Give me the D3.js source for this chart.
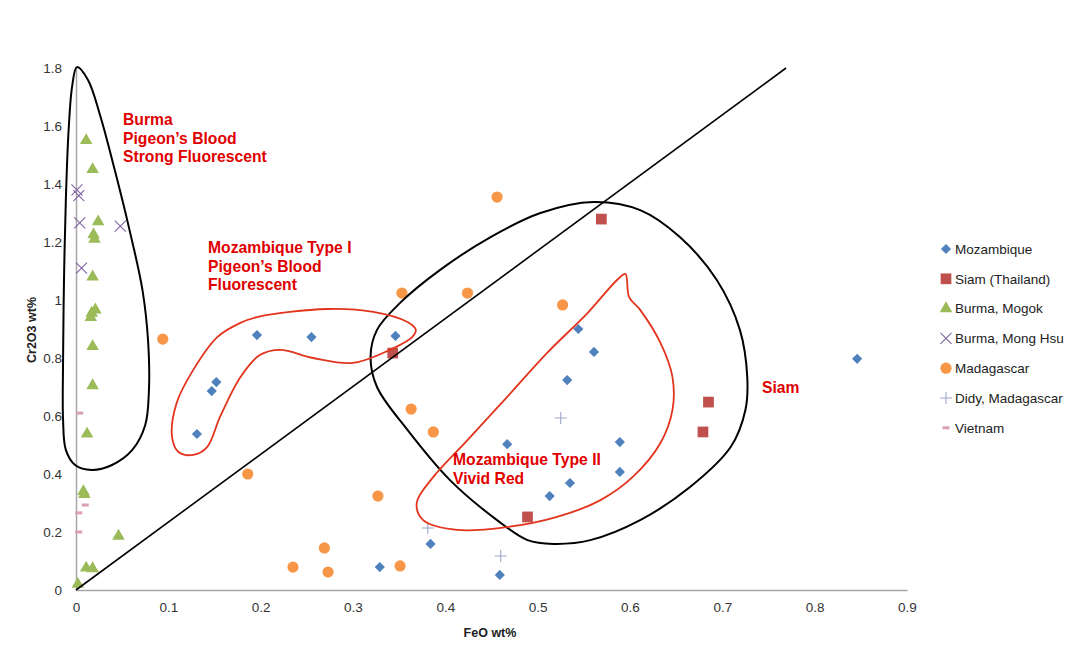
<!DOCTYPE html>
<html><head><meta charset="utf-8">
<script src="https://cdn.jsdelivr.net/npm/d3@7"></script>
<style>body{margin:0;background:#fff}svg{display:block}</style>
</head><body>
<script>
// ---- data (FeO wt%, Cr2O3 wt%) ----
const xTicks = [0,0.1,0.2,0.3,0.4,0.5,0.6,0.7,0.8,0.9];
const yTicks = [0,0.2,0.4,0.6,0.8,1,1.2,1.4,1.6,1.8];
const seriesNames = ["Mozambique","Siam (Thailand)","Burma, Mogok","Burma, Mong Hsu","Madagascar","Didy, Madagascar","Vietnam"];
const mozambique = [[0.196,0.879],[0.255,0.872],[0.152,0.717],[0.147,0.686],[0.131,0.538],[0.346,0.876],[0.544,0.900],[0.561,0.821],[0.532,0.724],[0.467,0.503],[0.589,0.510],[0.589,0.407],[0.535,0.369],[0.513,0.324],[0.384,0.159],[0.329,0.079],[0.459,0.052],[0.846,0.797]];
const siam = [[0.569,1.279],[0.343,0.817],[0.685,0.648],[0.679,0.545],[0.489,0.252]];
const burmaMogok = [[0.011,1.55],[0.018,1.45],[0.024,1.27],[0.019,1.225],[0.020,1.21],[0.018,1.08],[0.021,0.966],[0.017,0.955],[0.016,0.94],[0.018,0.84],[0.018,0.705],[0.012,0.538],[0.008,0.34],[0.009,0.33],[0.046,0.186],[0.011,0.076],[0.018,0.074],[0.002,0.02]];
const burmaMongHsu = [[0.001,1.38],[0.003,1.36],[0.004,1.266],[0.048,1.255],[0.006,1.11]];
const madagascar = [[0.094,0.865],[0.456,1.355],[0.353,1.024],[0.424,1.024],[0.527,0.983],[0.363,0.624],[0.387,0.545],[0.186,0.400],[0.327,0.324],[0.269,0.145],[0.235,0.079],[0.273,0.062],[0.351,0.083]];
const didy = [[0.525,0.593],[0.381,0.214],[0.460,0.117]];
const vietnam = [[0.004,0.61],[0.010,0.293],[0.003,0.266],[0.003,0.2]];
const diagonal = [[0,0],[0.769,1.8]];
// enclosing outlines (data units)
const burmaOutline = [[0.001,1.803],[0.013,1.759],[0.026,1.638],[0.042,1.448],[0.058,1.241],[0.072,1.034],[0.078,0.862],[0.079,0.690],[0.075,0.569],[0.061,0.483],[0.039,0.431],[0.017,0.414],[-0.001,0.431],[-0.011,0.483],[-0.014,0.586],[-0.014,0.793],[-0.013,1.069],[-0.011,1.345],[-0.008,1.586],[-0.004,1.741]];
const mozIOutline = [[0.196,0.941],[0.272,0.969],[0.322,0.959],[0.359,0.924],[0.368,0.897],[0.364,0.872],[0.340,0.828],[0.300,0.783],[0.257,0.800],[0.221,0.828],[0.199,0.810],[0.178,0.734],[0.156,0.597],[0.142,0.493],[0.127,0.466],[0.111,0.476],[0.104,0.528],[0.109,0.645],[0.127,0.759],[0.153,0.872],[0.178,0.921]];
const siamOutline = [[0.560,1.338],[0.611,1.310],[0.654,1.217],[0.694,1.069],[0.719,0.897],[0.727,0.734],[0.725,0.621],[0.709,0.493],[0.665,0.355],[0.611,0.241],[0.557,0.172],[0.517,0.159],[0.489,0.172],[0.456,0.241],[0.405,0.379],[0.359,0.552],[0.326,0.700],[0.319,0.803],[0.326,0.897],[0.351,0.990],[0.394,1.103],[0.449,1.217],[0.503,1.300]];
const mozIIOutline = [[0.595,1.090],[0.599,1.010],[0.611,0.966],[0.633,0.852],[0.646,0.734],[0.646,0.621],[0.633,0.507],[0.603,0.390],[0.568,0.310],[0.521,0.252],[0.467,0.217],[0.413,0.207],[0.376,0.241],[0.369,0.300],[0.387,0.390],[0.424,0.517],[0.467,0.666],[0.510,0.817],[0.554,0.955],[0.586,1.069]];
const annoBurma = ["Burma","Pigeon’s Blood","Strong Fluorescent"];
const annoMozI = ["Mozambique Type I","Pigeon’s Blood","Fluorescent"];
const annoMozII = ["Mozambique Type II","Vivid Red"];
const annoSiam = ["Siam"];

// ---- drawing ----
const W=1080,H=656;
const svg=d3.select("body").append("svg").attr("width",W).attr("height",H);
const x=d3.scaleLinear().domain([0,0.9]).range([76,907]);
const y=d3.scaleLinear().domain([0,1.8]).range([590,68]);
const font="'Liberation Sans', Arial, sans-serif";

const xa=svg.append("g").attr("transform","translate(0,590)")
  .call(d3.axisBottom(x).tickValues(xTicks).tickSize(0).tickPadding(12).tickFormat(d=>String(d)));
const ya=svg.append("g").attr("transform","translate(76,0)")
  .call(d3.axisLeft(y).tickValues(yTicks).tickSize(0).tickPadding(14).tickFormat(d=>String(d)));
[xa,ya].forEach(a=>{
  a.select(".domain").attr("stroke","#a6a6a6").attr("stroke-width",1.5);
  a.selectAll("text").attr("font-family",font).attr("font-size",13.5).attr("fill","#333");
});
svg.append("text").attr("x",490).attr("y",637).attr("text-anchor","middle")
  .attr("font-family",font).attr("font-size",12.5).attr("font-weight","bold").attr("fill","#222").text("FeO wt%");
svg.append("text").attr("transform","translate(36,330) rotate(-90)").attr("text-anchor","middle")
  .attr("font-family",font).attr("font-size",12.5).attr("font-weight","bold").attr("fill","#222").text("Cr2O3 wt%");

const C={moz:"#4f81bd",siam:"#c0504d",mogok:"#9bbb59",mh:"#8064a2",mad:"#f79646",didy:"#9aa6c8",viet:"#dba0b2"};
const sq=d3.symbol().type(d3.symbolSquare);
function drawMarker(g,kind){
  if(kind==="moz") g.append("path").attr("d",sq.size(52)()).attr("transform","rotate(45)").attr("fill",C.moz);
  else if(kind==="siam") g.append("path").attr("d",sq.size(115)()).attr("fill",C.siam);
  else if(kind==="mogok") g.append("path").attr("d",d3.symbol().type(d3.symbolTriangle).size(68)()).attr("fill",C.mogok);
  else if(kind==="mh") g.append("path").attr("d","M-5.5,-5.5L5.5,5.5M-5.5,5.5L5.5,-5.5").attr("stroke",C.mh).attr("stroke-width",1.1).attr("fill","none");
  else if(kind==="mad") g.append("circle").attr("r",5.6).attr("fill",C.mad);
  else if(kind==="didy") g.append("path").attr("d","M-6,0L6,0M0,-6L0,6").attr("stroke",C.didy).attr("stroke-width",1.1).attr("fill","none");
  else if(kind==="viet") g.append("rect").attr("x",-3.5).attr("y",-1.5).attr("width",7).attr("height",3).attr("fill",C.viet);
}
const series=[[mozambique,"moz"],[siam,"siam"],[burmaMogok,"mogok"],[burmaMongHsu,"mh"],[madagascar,"mad"],[didy,"didy"],[vietnam,"viet"]];
series.forEach(([data,kind])=>{
  svg.append("g").selectAll("g").data(data).join("g")
    .attr("transform",d=>`translate(${x(d[0])},${y(d[1])})`)
    .each(function(){drawMarker(d3.select(this),kind);});
});

// diagonal
svg.append("path").attr("d",d3.line().x(d=>x(d[0])).y(d=>y(d[1]))(diagonal))
  .attr("stroke","#000").attr("stroke-width",1.6).attr("fill","none");
// outlines
const closed=d3.line().x(d=>x(d[0])).y(d=>y(d[1])).curve(d3.curveCatmullRomClosed.alpha(0.5));
[[burmaOutline,"#000",2],[siamOutline,"#000",2],[mozIOutline,"#e2341d",1.8],[mozIIOutline,"#e2341d",1.8]].forEach(([d,c,w])=>{
  svg.append("path").attr("d",closed(d)).attr("stroke",c).attr("stroke-width",w).attr("fill","none");
});

// annotations
function anno(lines,px,py,lh){
  const t=svg.append("text").attr("font-family",font).attr("font-size",15.7).attr("font-weight","bold").attr("fill","#e00000");
  lines.forEach((l,i)=>t.append("tspan").attr("x",px).attr("y",py+i*lh).text(l));
}
anno(annoBurma,123,125,18.5);
anno(annoMozI,208,253,18.5);
anno(annoMozII,453,465,18.5);
anno(annoSiam,762,393,18.5);

// legend
const lg=svg.append("g");
seriesNames.forEach((n,i)=>{
  const yy=249+i*29.8;
  const g=lg.append("g").attr("transform",`translate(946,${yy})`);
  drawMarker(g,series[i][1]);
  lg.append("text").attr("x",955).attr("y",yy+4.8).attr("font-family",font).attr("font-size",13.5).attr("fill","#222").text(n);
});
</script>
</body></html>
